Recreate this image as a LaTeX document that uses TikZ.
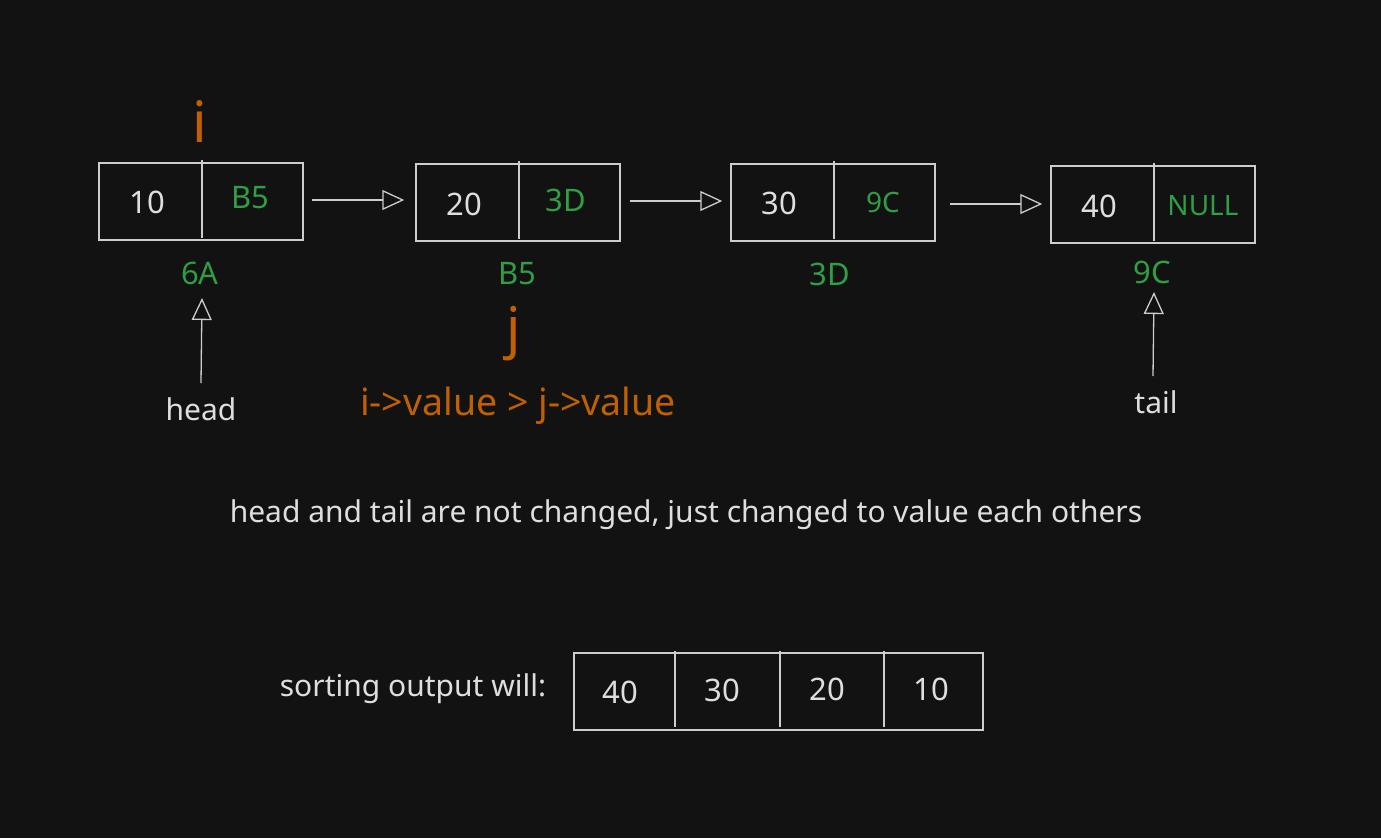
\documentclass[tikz,border=0pt]{standalone}
\usepackage{fontspec}
\setmainfont{Noto Sans}
\usetikzlibrary{arrows.meta,calc}
\definecolor{bg}{RGB}{18,18,18}
\definecolor{strk}{RGB}{205,205,205}
\definecolor{txt}{RGB}{222,222,222}
\definecolor{grn}{RGB}{47,158,68}
\definecolor{org}{RGB}{192,96,0}
\tikzset{
  box/.style={draw=strk, line width=1.5bp, minimum width=204bp, minimum height=77bp, inner sep=0pt},
  obox/.style={draw=strk, line width=1.5bp, minimum width=409bp, minimum height=77bp, inner sep=0pt},
  val/.style={text=txt, font=\fontsize{31bp}{36bp}\selectfont, inner sep=0pt},
  ptr/.style={text=grn, font=\fontsize{31bp}{36bp}\selectfont, inner sep=0pt},
  sptr/.style={text=grn, font=\fontsize{28bp}{32bp}\selectfont, inner sep=0pt},
  addr/.style={text=grn, font=\fontsize{31bp}{36bp}\selectfont, inner sep=0pt},
  lbl/.style={text=txt, font=\fontsize{30bp}{35bp}\selectfont, inner sep=0pt},
  olbl/.style={text=org, inner sep=0pt},
  divider/.style={draw=strk, line width=1.5bp},
  arr/.style={draw=strk, line width=1.3bp, -{Triangle[open, length=22bp, width=20bp, line width=1.3bp]}},
}
\begin{document}
\begin{tikzpicture}[x=1bp, y=-1bp]
\useasboundingbox[fill=bg] (0,0) rectangle (1381,838);
% list nodes
\node[box] (n1) at (201,201.5) {};
\node[box] (n2) at (518,202.5) {};
\node[box] (n3) at (833,202.5) {};
\node[box] (n4) at (1153,204.5) {};
\draw[divider] (202,160) -- (202,238);
\draw[divider] (519,161) -- (519,239);
\draw[divider] (834,161) -- (834,239);
\draw[divider] (1154,163) -- (1154,241);
\node[val] (v1) at (147,202) {10};
\node[ptr] (p1) at (250,198) {B5};
\node[val] (v2) at (464,204) {20};
\node[ptr] (p2) at (566,200) {3D};
\node[val] (v3) at (779,203) {30};
\node[sptr] (p3) at (883,203) {9C};
\node[val] (v4) at (1099,206) {40};
\node[sptr] (p4) at (1203,206) {NULL};
% arrows between nodes
\draw[arr, shorten <=8bp, shorten >=11bp] (n1.east |- 0,200) coordinate (a1s) -- (n2.west |- a1s);
\draw[arr, shorten <=9bp, shorten >=8bp] (n2.east |- 0,201) coordinate (a2s) -- (n3.west |- a2s);
\draw[arr, shorten <=14bp, shorten >=8bp] (n3.east |- 0,204) coordinate (a3s) -- (n4.west |- a3s);
% addresses
\node[addr] (l1) at (200,273) {6A};
\node[addr] (l2) at (517,274) {B5};
\node[addr] (l3) at (830,274) {3D};
\node[addr] (l4) at (1152,272) {9C};
% i and j
\node[olbl, font=\fontsize{57bp}{64bp}\selectfont] (iv) at (200,121) {i};
\node[olbl, font=\fontsize{56bp}{64bp}\selectfont] (jv) at (514,334) {j};
\node[olbl, font=\fontsize{37.5bp}{44bp}\selectfont] (cond) at (518,406) {i->value > j->value};
% head and tail
\node[lbl] (head) at (201,409) {head};
\node[lbl] (tail) at (1156,402) {tail};
\draw[arr] (201,383) coordinate (hs) -- (202,298) coordinate (ht);
\draw[arr] (1153,376) coordinate (ts) -- (1154,292) coordinate (tt);
% sentence
\node[lbl] (note) at (686,515) {head and tail are not changed, just changed to value each others};
% output
\node[lbl] (sortlbl) at (413,689) {sorting output will:};
\node[obox] (out) at (778.5,691.5) {};
\draw[divider] (675,651) -- (675,727);
\draw[divider] (780,651) -- (780,727);
\draw[divider] (884,651) -- (884,727);
\node[val] (o1) at (620,692) {40};
\node[val] (o2) at (722,690) {30};
\node[val] (o3) at (827,689) {20};
\node[val] (o4) at (931,689) {10};
\end{tikzpicture}
\end{document}
